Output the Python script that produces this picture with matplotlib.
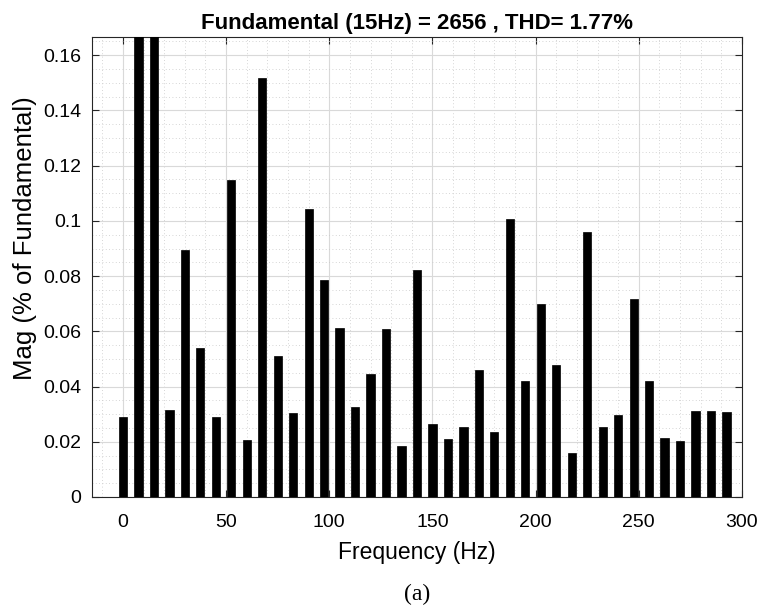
import matplotlib
matplotlib.use("Agg")
import matplotlib.pyplot as plt
from matplotlib.ticker import MultipleLocator

freqs = [i * 7.5 for i in range(40)]
mags = [0.029, 0.30, 100.0, 0.0315, 0.0895, 0.054, 0.0288, 0.1148, 0.0207, 0.1516,
        0.0512, 0.0305, 0.1043, 0.0786, 0.0613, 0.0327, 0.0444, 0.0608, 0.0186, 0.0823,
        0.0263, 0.0210, 0.0255, 0.0461, 0.0237, 0.1007, 0.0421, 0.0700, 0.0477, 0.0160,
        0.0958, 0.0255, 0.0298, 0.0717, 0.0421, 0.0215, 0.0201, 0.0310, 0.0310, 0.0309]
xticks = [0, 50, 100, 150, 200, 250, 300]
yticks = [0, 0.02, 0.04, 0.06, 0.08, 0.1, 0.12, 0.14, 0.16]
ytick_labels = ["0", "0.02", "0.04", "0.06", "0.08", "0.1", "0.12", "0.14", "0.16"]

plt.rcParams['font.family'] = ['Liberation Sans', 'DejaVu Sans']

fig = plt.figure(figsize=(7.61, 6.14), dpi=100)
ax = fig.add_axes([0.1209, 0.1906, 0.8541, 0.7491])

ax.bar(freqs, mags, width=4.0, color='black', edgecolor='black', linewidth=0.5, zorder=3)

ax.set_xlim(-15, 300)
ax.set_ylim(0, 0.1666)
ax.set_xticks(xticks)
ax.set_yticks(yticks)
ax.set_yticklabels(ytick_labels)
ax.xaxis.set_minor_locator(MultipleLocator(10))
ax.yaxis.set_minor_locator(MultipleLocator(0.005))

ax.grid(True, which='major', color='#d9d9d9', linewidth=0.8, linestyle='-', zorder=0)
ax.grid(True, which='minor', color='#c8c8c8', linewidth=0.6, linestyle=(0, (1, 3)), zorder=0)
ax.set_axisbelow(True)

ax.tick_params(axis='both', which='major', direction='in', length=5, width=0.8,
               top=True, right=True, labelsize=14, colors='#262626')
ax.tick_params(axis='x', which='major', pad=12)
ax.tick_params(axis='y', which='major', pad=8)
ax.tick_params(axis='both', which='minor', length=0, top=True, right=True)
for tl in ax.get_xticklabels() + ax.get_yticklabels():
    tl.set_color('black')
for s in ax.spines.values():
    s.set_color('#262626')
    s.set_linewidth(0.8)

ax.set_title("Fundamental (15Hz) = 2656 , THD= 1.77%", fontsize=16, fontweight='bold', pad=6)
ax.set_xlabel("Frequency (Hz)", fontsize=16.5, va='center')
ax.set_ylabel("Mag (% of Fundamental)", fontsize=18.5, va='center')
ax.xaxis.set_label_coords(0.5, (497 - 553) / 460)
ax.yaxis.set_label_coords((25 - 92) / 650, (497 - 238) / 460)

fig.text(0.5 * (0.1209 + 0.9750), 1 - 594 / 614, "(a)", ha='center', va='center',
         fontsize=17, family=['Liberation Serif'])

fig.savefig("out.png", dpi=100)
